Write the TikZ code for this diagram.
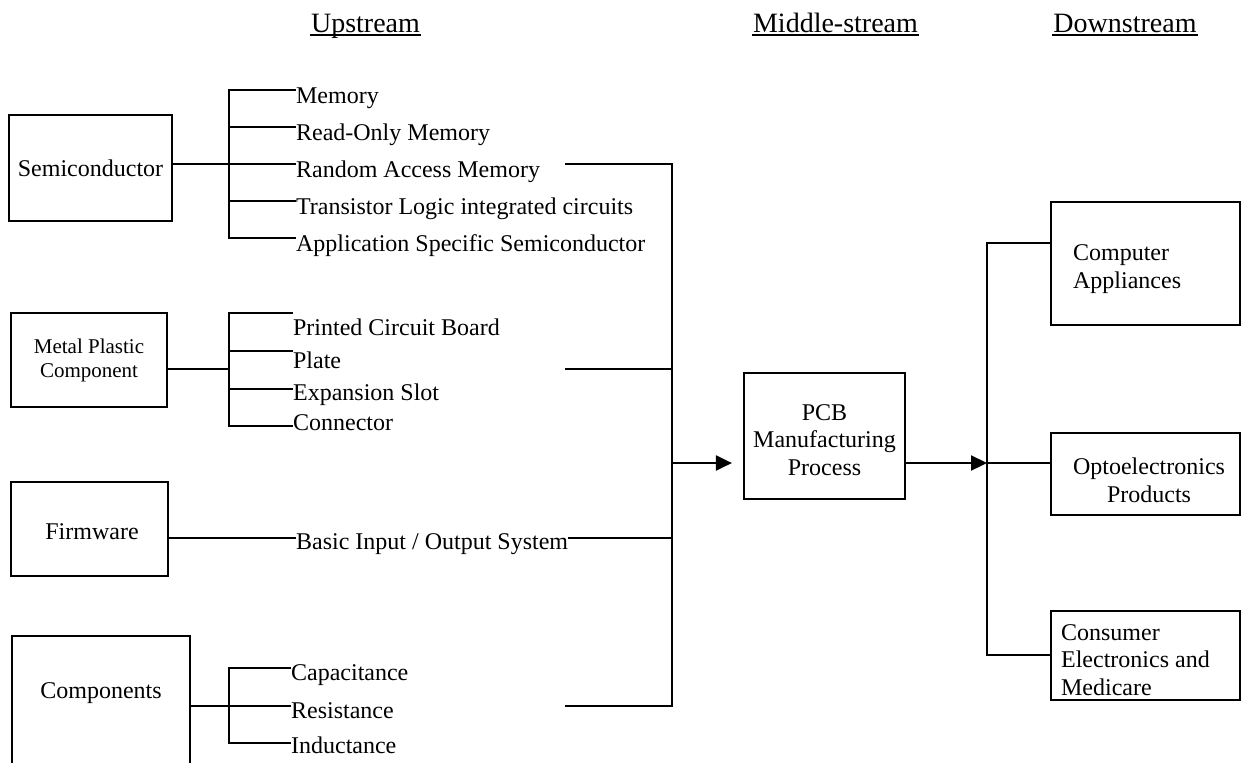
\documentclass[tikz,border=0pt]{standalone}
\usepackage{fontspec}
\setmainfont{Liberation Serif}
\usetikzlibrary{arrows.meta}

\begin{document}
\begin{tikzpicture}[x=0.5pt, y=-0.5pt, line width=1.1pt, line cap=rect,
		box/.style={draw, line width=1.1pt, inner sep=0pt, align=center, font=\fontsize{12}{13.8}\selectfont},
		boxtext/.style={inner sep=0pt, align=center, font=\fontsize{12}{13.8}\selectfont},
		item/.style={anchor=base west, inner sep=0pt, font=\fontsize{12}{14}\selectfont},
		head/.style={anchor=base, inner sep=0pt, font=\fontsize{14}{16}\selectfont},
		arr/.style={-{Triangle[length=8pt,width=7.5pt]}}]
		\useasboundingbox (0,0) rectangle (1241,762);

		% column heads
		\node (up) [head] at (365.5,32) {Upstream};
		\node (mid) [head] at (835.5,32) {Middle-stream};
		\node (down) [head] at (1125,32) {Downstream};
		\foreach \h in {up,mid,down}
		\draw [line width=1pt, line cap=butt] ([yshift=-1.5pt]\h.base west) -- ([yshift=-1.5pt]\h.base east);

		% upstream: semiconductor
		\node (semi) [box, minimum width=81.5pt, minimum height=53pt] at (90.5,168) {Semiconductor};
		\foreach \n/\y/\b/\t in {1/90/103/Memory, 2/127/140/Read-Only Memory, 3/164/177/Random Access Memory,
				4/201/214/Transistor Logic integrated circuits, 5/238/251/Application Specific Semiconductor} {
			\coordinate (s\n) at (229,\y);
			\node (sl\n) [item] at (295,\b) {\t};
			\draw (s\n) -- (s\n -| sl\n.west);
		}
		\draw (s1) -- (s5);
		\draw (semi.east |- s3) -- (s3);

		% upstream: metal plastic
		\node (metal) [box, minimum width=78pt, minimum height=47pt, font=\fontsize{10.5}{12}\selectfont] at (89,360) {Metal Plastic\\Component};
		\foreach \n/\y/\b/\t in {1/313/335/Printed Circuit Board, 2/351/368/Plate, 3/389/400/Expansion Slot, 4/426/430/Connector} {
			\coordinate (m\n) at (229,\y);
			\node (ml\n) [item] at (292,\b) {\t};
			\draw (m\n) -- (m\n -| ml\n.west);
		}
		\draw (m1) -- (m4);
		\coordinate (mc) at (229,369);
		\draw (metal.east |- mc) -- (mc);

		% upstream: firmware
		\node (firm) [box, minimum width=78.5pt, minimum height=47pt] at (89.5,529) {};
		\node (firmtxt) [boxtext] at (92,532) {Firmware};
		\node (bios) [item] at (295,549) {Basic Input / Output System};

		% upstream: components
		\node (comp) [draw, line width=1.1pt, minimum width=89pt, minimum height=70pt, anchor=north west] at (11,635) {};
		\node (comptxt) [boxtext] at (101,693) {Components};
		\foreach \n/\y/\b/\t in {1/668/680/Capacitance, 2/706/718/Resistance, 3/743/753/Inductance} {
			\coordinate (c\n) at (229,\y);
			\node (cl\n) [item] at (290,\b) {\t};
			\draw (c\n) -- (c\n -| cl\n.west);
		}
		\draw (c1) -- (c3);
		\draw (comp.east |- c2) -- (c2);

		% collecting trunk
		\coordinate (t1) at (672,164);
		\coordinate (t2) at (672,369);
		\coordinate (t3) at (672,538);
		\coordinate (t4) at (672,706);
		\coordinate (tm) at (672,463);
		\draw (566,164) -- (t1);
		\draw (566,369) -- (t2);
		\draw (566,706) -- (t4);
		\draw (firm.east |- t3) -- (t3 -| bios.west);
		\draw (bios.east |- t3) -- (t3);
		\draw (t1) -- (t4);

		% middle-stream
		\node (pcb) [box, minimum width=80.5pt, minimum height=63pt] at (824.5,436) {};
		\node (pcbtxt) [boxtext] at (824.5,440) {PCB\\Manufacturing\\Process};
		\draw [arr, shorten >=5.5pt] (tm) -- (tm -| pcb.west);

		% downstream
		\node (capp) [box, minimum width=94.5pt, minimum height=61.5pt] at (1145.5,263.5) {};
		\node (capptxt) [boxtext, anchor=west, align=left] at (1072,269) {Computer\\Appliances};
		\node (opto) [box, minimum width=94.5pt, minimum height=41pt] at (1145.5,474) {};
		\node (optotxt) [boxtext] at (1149,480) {Optoelectronics\\Products};
		\node (cons) [box, minimum width=94.5pt, minimum height=44.5pt] at (1145.5,655.5) {};
		\node (constxt) [boxtext, anchor=west, align=left] at (1060,660) {Consumer\\Electronics and\\Medicare};
		\coordinate (r1) at (987,243);
		\coordinate (r2) at (987,463);
		\coordinate (r3) at (987,655);
		\draw [arr] (pcb.east |- r2) -- (r2);
		\draw (r1) -- (r3);
		\draw (r1) -- (r1 -| capp.west);
		\draw (r2) -- (r2 -| opto.west);
		\draw (r3) -- (r3 -| cons.west);
		\end{tikzpicture}
\end{document}
